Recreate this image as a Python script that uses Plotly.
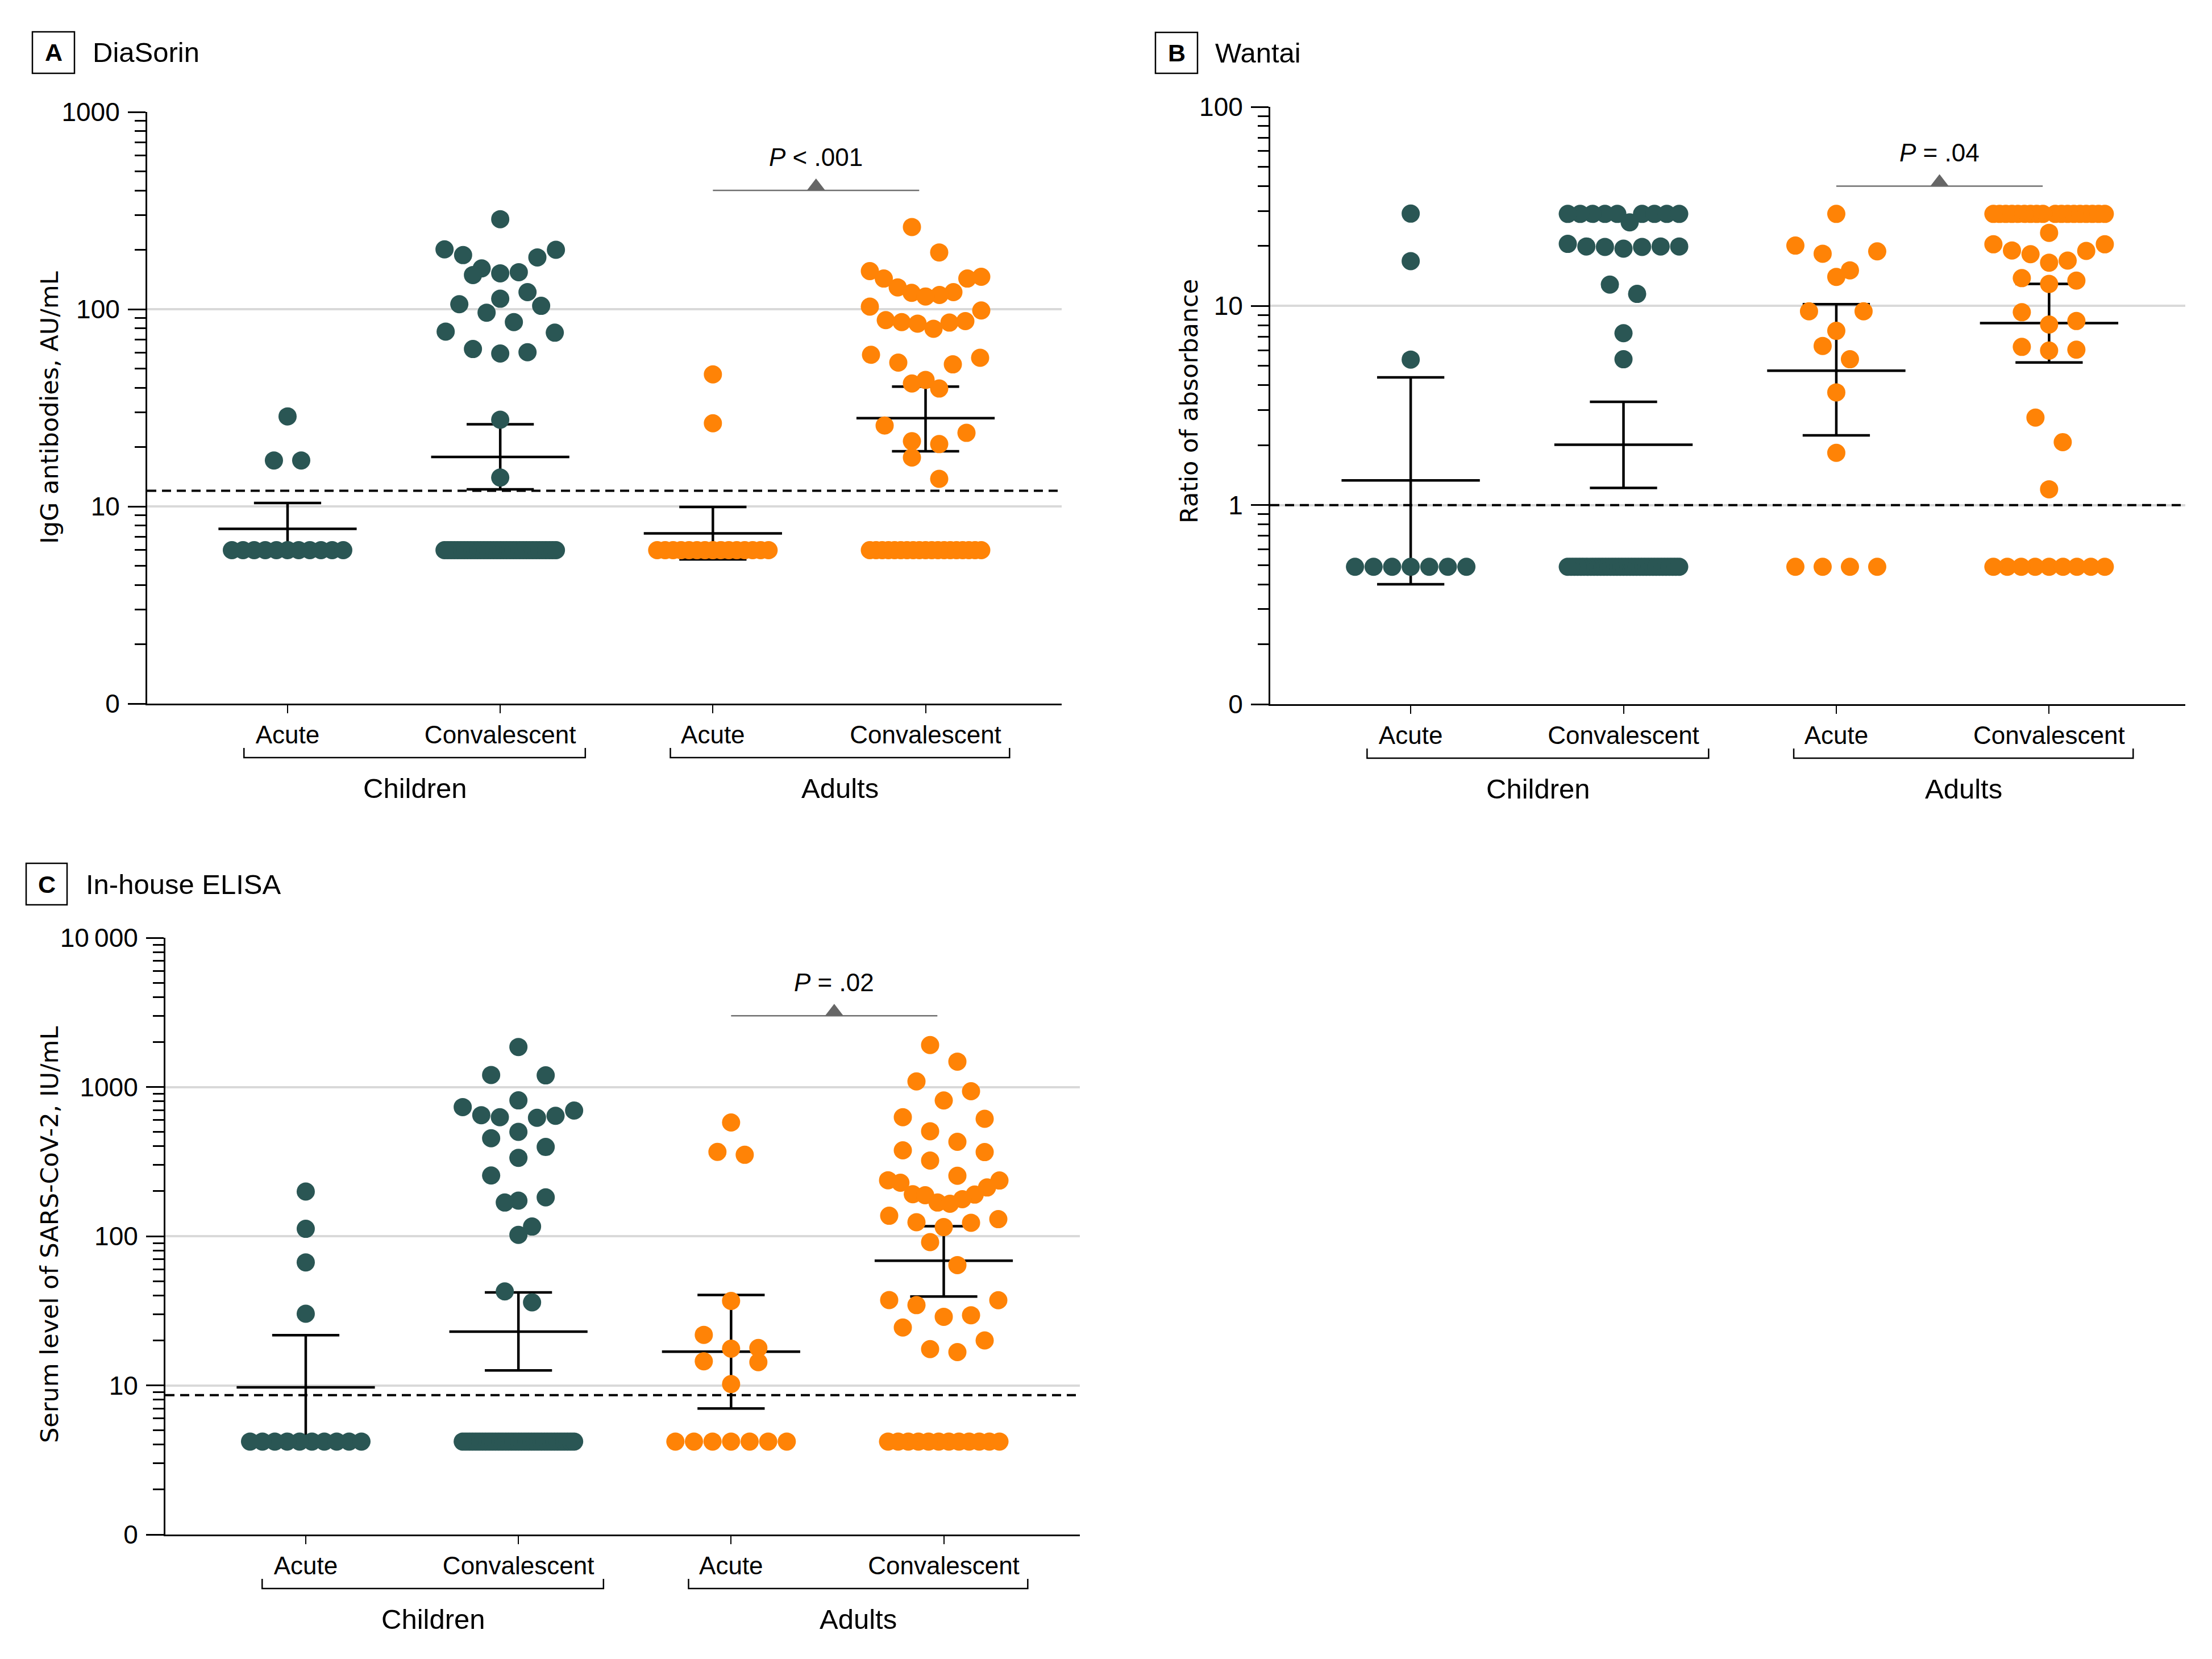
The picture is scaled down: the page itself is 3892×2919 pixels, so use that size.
import numpy as np
import plotly.graph_objects as go

FIG_W, FIG_H = 3892, 2919
PAGE_MARGIN = 8  # default body margin of the html page, compensated in placement
TEAL = "#2a5654"
ORANGE = "#ff8306"
FONT = "Liberation Sans, Arial, Helvetica, sans-serif"
YTITLE_FONT = "DejaVu Sans, Verdana, sans-serif"

categories = ["Acute", "Convalescent", "Acute", "Convalescent"]
cohorts = ["Children", "Adults"]
group_colors = [TEAL, TEAL, ORANGE, ORANGE]

# ---------------- Panel A: DiaSorin (AU/mL) ----------------
a_children_acute = [28.6, 17.1, 17.1,
                    6.0, 6.0, 6.0, 6.0, 6.0, 6.0, 6.0, 6.0, 6.0, 6.0, 6.0]
a_children_conv = [286, 201, 200, 188, 183, 161, 154, 152, 149, 122, 113,
                   106, 104, 96, 86, 77, 76, 62.8, 60.5, 59.6, 27.5, 14.0,
                   6.0, 6.0, 6.0, 6.0, 6.0, 6.0, 6.0, 6.0, 6.0, 6.0, 6.0, 6.0,
                   6.0, 6.0, 6.0, 6.0, 6.0, 6.0, 6.0, 6.0, 6.0, 6.0, 6.0, 6.0,
                   6.0, 6.0, 6.0, 6.0, 6.0, 6.0, 6.0, 6.0, 6.0, 6.0, 6.0]
a_adults_acute = [46.7, 26.4,
                  6.0, 6.0, 6.0, 6.0, 6.0, 6.0, 6.0, 6.0, 6.0, 6.0, 6.0, 6.0,
                  6.0, 6.0, 6.0]
a_adults_conv = [261, 194, 156, 146, 143, 143, 129, 122, 121, 118, 116, 103,
                 98.5, 88, 87, 86, 85.5, 84.5, 79.6, 58.7, 56.7, 53.6, 52.5,
                 43.8, 42, 39.6, 25.7, 23.6, 21.4, 20.7, 17.7, 13.8,
                 6.0, 6.0, 6.0, 6.0, 6.0, 6.0, 6.0, 6.0, 6.0, 6.0, 6.0, 6.0,
                 6.0, 6.0, 6.0, 6.0, 6.0, 6.0, 6.0]
a_gmean = [7.7, 17.8, 7.3, 28.0]
a_ci_low = [5.7, 12.2, 5.39, 19.05]
a_ci_high = [10.4, 26.1, 9.94, 40.5]
a_cutoff = 12.0
a_p_label = "<i>P</i> &lt; .001"

# ---------------- Panel B: Wantai (ratio) ----------------
b_children_acute = [29.1, 16.8, 5.38,
                    0.49, 0.49, 0.49, 0.49, 0.49, 0.49, 0.49]
b_children_conv = [29.0, 29.0, 29.0, 29.0, 29.0, 29.0, 29.0, 29.0, 29.0,
                   26.3, 20.5, 19.9, 19.9, 19.9, 19.8, 19.8, 19.4, 12.8, 11.5,
                   7.3, 5.4,
                   0.49, 0.49, 0.49, 0.49, 0.49, 0.49, 0.49, 0.49, 0.49, 0.49,
                   0.49, 0.49, 0.49, 0.49, 0.49, 0.49, 0.49, 0.49, 0.49, 0.49,
                   0.49, 0.49, 0.49, 0.49, 0.49, 0.49, 0.49, 0.49, 0.49, 0.49,
                   0.49, 0.49, 0.49, 0.49, 0.49]
b_adults_acute = [29.0, 20.1, 18.8, 18.3, 15.1, 14.0, 9.4, 9.4, 7.5, 6.3, 5.4,
                  3.68, 1.83,
                  0.49, 0.49, 0.49, 0.49]
b_adults_conv = [29.0, 29.0, 29.0, 29.0, 29.0, 29.0, 29.0, 29.0, 29.0,
                 29.0, 29.0, 29.0, 29.0, 29.0, 29.0, 29.0, 29.0, 29.0,
                 23.3, 20.4, 20.4, 19.0, 18.9, 18.2, 16.9, 16.5, 13.8, 13.4,
                 12.9, 9.3, 8.4, 8.07, 6.23, 6.03, 5.97, 2.75, 2.07, 1.20,
                 0.49, 0.49, 0.49, 0.49, 0.49, 0.49, 0.49, 0.49, 0.49]
b_gmean = [1.33, 2.01, 4.73, 8.2]
b_ci_low = [0.40, 1.22, 2.24, 5.2]
b_ci_high = [4.38, 3.30, 10.2, 12.9]
b_cutoff = 1.0
b_p_label = "<i>P</i> = .04"

# ---------------- Panel C: In-house ELISA (IU/mL) ----------------
c_children_acute = [199, 112, 66.7, 30.2,
                    4.2, 4.2, 4.2, 4.2, 4.2, 4.2, 4.2, 4.2, 4.2, 4.2]
c_children_conv = [1853, 1203, 1196, 813, 733, 695, 647, 641, 627, 621, 500,
                   453, 396, 335, 255, 182, 173, 168, 116, 102, 42.6, 36.0,
                   4.2, 4.2, 4.2, 4.2, 4.2, 4.2, 4.2, 4.2, 4.2, 4.2, 4.2, 4.2,
                   4.2, 4.2, 4.2, 4.2, 4.2, 4.2, 4.2, 4.2, 4.2, 4.2, 4.2, 4.2,
                   4.2, 4.2, 4.2, 4.2, 4.2, 4.2, 4.2, 4.2, 4.2, 4.2, 4.2]
c_adults_acute = [578, 367, 351, 36.8, 21.8, 17.8, 17.6, 14.5, 14.3, 10.2,
                  4.2, 4.2, 4.2, 4.2, 4.2, 4.2, 4.2]
c_adults_conv = [1910, 1479, 1089, 936, 812, 627, 612, 505, 429, 376, 366,
                 321, 254, 237, 236, 228, 212, 191, 190, 188, 177, 168, 165,
                 137, 130, 124, 123, 115, 91.2, 64.0, 37.3, 37.2, 34.5, 29.5,
                 28.8, 24.4, 20.0, 17.5, 16.7,
                 4.2, 4.2, 4.2, 4.2, 4.2, 4.2, 4.2, 4.2, 4.2, 4.2, 4.2, 4.2]
c_gmean = [9.7, 22.9, 16.8, 68.4]
c_ci_low = [4.4, 12.6, 7.0, 39.4]
c_ci_high = [21.7, 42.0, 40.3, 116.7]
c_cutoff = 8.6
c_p_label = "<i>P</i> = .02"

# ---------------- layout constants ----------------
XR = (-0.66, 3.64)
MARKER_D = 32
BIN_PX = 45
MAX_STEP = 48
MAX_SPAN = 196

panels = [
    dict(letter="A", name="DiaSorin", ytitle="IgG antibodies, AU/mL",
         groups=[a_children_acute, a_children_conv, a_adults_acute, a_adults_conv],
         gmean=a_gmean, lo=a_ci_low, hi=a_ci_high, cutoff=a_cutoff,
         pline=400, plabel=a_p_label, yrange=(0, 3),
         tickvals=[1, 10, 100, 1000], ticktext=["0", "10", "100", "1000"],
         plot_px=(259, 197, 1868, 1238), box_px=(57, 56, 131, 129),
         title_x=161, ytitle_x=87, ytitle_y=717),
    dict(letter="B", name="Wantai", ytitle="Ratio of absorbance",
         groups=[b_children_acute, b_children_conv, b_adults_acute, b_adults_conv],
         gmean=b_gmean, lo=b_ci_low, hi=b_ci_high, cutoff=b_cutoff,
         pline=40, plabel=b_p_label, yrange=(-1, 2),
         tickvals=[0.1, 1, 10, 100], ticktext=["0", "1", "10", "100"],
         plot_px=(2235, 188, 3845, 1239), box_px=(2033, 57, 2107, 129),
         title_x=2136, ytitle_x=2092, ytitle_y=706),
    dict(letter="C", name="In-house ELISA", ytitle="Serum level of SARS-CoV-2, IU/mL",
         groups=[c_children_acute, c_children_conv, c_adults_acute, c_adults_conv],
         gmean=c_gmean, lo=c_ci_low, hi=c_ci_high, cutoff=c_cutoff,
         pline=3000, plabel=c_p_label, yrange=(0, 4),
         tickvals=[1, 10, 100, 1000, 10000],
         ticktext=["0", "10", "100", "1000", "10\u2009000"],
         plot_px=(291, 1650, 1900, 2700), box_px=(46, 1519, 118, 1592),
         title_x=149, ytitle_x=87, ytitle_y=2173),
]


def px_x(px):
    return (px - PAGE_MARGIN) / FIG_W


def px_y(py):
    return 1 - (py - PAGE_MARGIN) / FIG_H


def swarm_offsets(vals, ppd):
    """Prism-like row layout: bin points into rows, spread each row sideways."""
    vals = np.asarray(vals, dtype=float)
    py = np.log10(vals) * ppd
    order = np.argsort(-vals, kind="stable")
    offs = np.zeros(len(vals))
    i = 0
    while i < len(order):
        top = py[order[i]]
        row = [order[i]]
        j = i + 1
        while j < len(order) and top - py[order[j]] <= BIN_PX:
            row.append(order[j])
            j += 1
        i = j
        n = len(row)
        step = MAX_STEP if n < 2 else min(MAX_STEP, MAX_SPAN / (n - 1))
        row_sorted = sorted(row, key=lambda k: vals[k])
        if n % 2:
            slots = [0] + [s for k in range(1, n // 2 + 1) for s in (k, -k)]
        else:
            slots = [s for k in range(n // 2) for s in (k + 0.5, -(k + 0.5))]
        for k, s in zip(row_sorted, slots):
            offs[k] = s * step
    return offs


fig = go.Figure()
shapes = []
annotations = []
layout_axes = {}

MEAN_HW = 0.325
CAP_HW = 0.158

for idx, p in enumerate(panels):
    sfx = "" if idx == 0 else str(idx + 1)
    xa, ya = "x" + sfx, "y" + sfx
    x0, y0, x1, y1 = p["plot_px"]
    r0, r1 = p["yrange"]
    ppd = (y1 - y0) / (r1 - r0)
    ppu = (x1 - x0) / (XR[1] - XR[0])

    minor_vals = [m * 10 ** d for d in range(int(r0), int(r1)) for m in range(2, 10)]

    layout_axes["xaxis" + sfx] = dict(
        domain=[px_x(x0), px_x(x1)], anchor=ya, range=list(XR), automargin=False,
        showline=True, linecolor="black", linewidth=3, mirror=False,
        ticks="outside", ticklen=14, tickwidth=2, tickcolor="black",
        tickmode="array", tickvals=[0, 1, 2, 3], ticktext=categories,
        tickfont=dict(family=FONT, size=44, color="black"),
        ticklabelstandoff=0,
        showgrid=False, zeroline=False, fixedrange=True,
    )
    layout_axes["yaxis" + sfx] = dict(
        domain=[px_y(y1), px_y(y0)], anchor=xa, type="log", range=[r0, r1],
        automargin=False,
        showline=True, linecolor="black", linewidth=3, mirror=False,
        ticks="outside", ticklen=31, tickwidth=3, tickcolor="black",
        tickmode="array", tickvals=p["tickvals"], ticktext=p["ticktext"],
        tickfont=dict(family=FONT, size=46, color="black"),
        ticklabelstandoff=5,
        showgrid=True, gridcolor="#d9d9d9", gridwidth=3.5,
        minor=dict(tickmode="array", tickvals=minor_vals, ticks="outside",
                   ticklen=19, tickwidth=2.5, tickcolor="black", showgrid=False),
        zeroline=False, fixedrange=True,
    )

    # cutoff (dashed)
    fig.add_trace(go.Scatter(
        x=list(XR), y=[p["cutoff"], p["cutoff"]], mode="lines",
        line=dict(color="black", width=4, dash="16px,10px"),
        xaxis=xa, yaxis=ya, showlegend=False, hoverinfo="skip"))

    # geometric mean and 95% CI
    ex, ey = [], []
    for g in range(4):
        m, lo, hi = p["gmean"][g], p["lo"][g], p["hi"][g]
        ex += [g - MEAN_HW, g + MEAN_HW, None, g, g, None,
               g - CAP_HW, g + CAP_HW, None, g - CAP_HW, g + CAP_HW, None]
        ey += [m, m, None, lo, hi, None, hi, hi, None, lo, lo, None]
    fig.add_trace(go.Scatter(
        x=ex, y=ey, mode="lines", line=dict(color="black", width=4.5),
        xaxis=xa, yaxis=ya, showlegend=False, hoverinfo="skip", connectgaps=False))

    # P-value bracket
    fig.add_trace(go.Scatter(
        x=[2.0, 2.97], y=[p["pline"], p["pline"]], mode="lines",
        line=dict(color="#707070", width=2.5),
        xaxis=xa, yaxis=ya, showlegend=False, hoverinfo="skip"))
    fig.add_trace(go.Scatter(
        x=[2.485], y=[p["pline"] * 10 ** (7 / ppd)], mode="markers",
        marker=dict(symbol="triangle-up", size=28, color="#666666", line=dict(width=0)),
        xaxis=xa, yaxis=ya, showlegend=False, hoverinfo="skip"))
    annotations.append(dict(
        x=2.485, y=np.log10(p["pline"]), xref=xa, yref=ya, yshift=59,
        text=p["plabel"], showarrow=False, xanchor="center", yanchor="middle",
        font=dict(family=FONT, size=44, color="black")))

    # dots
    for g, vals in enumerate(p["groups"]):
        offs = swarm_offsets(vals, ppd) / ppu
        fig.add_trace(go.Scatter(
            x=g + offs, y=vals, mode="markers",
            marker=dict(size=MARKER_D, color=group_colors[g], line=dict(width=0)),
            xaxis=xa, yaxis=ya, showlegend=False,
            name=f"{cohorts[g // 2]} {categories[g]}"))

    # cohort brackets below the axis
    line_y = px_y(y1 + 95)
    end_y = px_y(y1 + 78)
    for (bx0, bx1), label in zip([(-0.205, 1.40), (1.80, 3.395)], cohorts):
        shapes.append(dict(
            type="path", xref=xa, yref="paper",
            path=f"M {bx0},{end_y} L {bx0},{line_y} L {bx1},{line_y} L {bx1},{end_y}",
            line=dict(color="black", width=2.5)))
        annotations.append(dict(
            x=(bx0 + bx1) / 2, y=px_y(y1 + 149), xref=xa, yref="paper",
            text=label, showarrow=False, xanchor="center", yanchor="middle",
            font=dict(family=FONT, size=49, color="black")))

    # panel letter box and title
    bx0, by0, bx1, by1 = p["box_px"]
    shapes.append(dict(type="rect", xref="paper", yref="paper",
                       x0=px_x(bx0), x1=px_x(bx1), y0=px_y(by1), y1=px_y(by0),
                       line=dict(color="black", width=2.5), fillcolor="white"))
    annotations.append(dict(
        x=px_x((bx0 + bx1) / 2), y=px_y((by0 + by1) / 2), xref="paper", yref="paper",
        text=f"<b>{p['letter']}</b>", showarrow=False, xanchor="center", yanchor="middle",
        font=dict(family=FONT, size=43, color="black")))
    annotations.append(dict(
        x=px_x(p["title_x"]), y=px_y((by0 + by1) / 2), xref="paper", yref="paper",
        text=p["name"], showarrow=False, xanchor="left", yanchor="middle",
        font=dict(family=FONT, size=49, color="black")))

    # y-axis title
    annotations.append(dict(
        x=px_x(p["ytitle_x"]), y=px_y(p["ytitle_y"]), xref="paper", yref="paper",
        text=p["ytitle"], textangle=-90, showarrow=False,
        xanchor="center", yanchor="middle",
        font=dict(family=YTITLE_FONT, size=43, color="black")))

fig.update_layout(
    template="none",
    width=FIG_W, height=FIG_H, autosize=False,
    margin=dict(l=0, r=0, t=0, b=0, pad=0, autoexpand=False),
    paper_bgcolor="white", plot_bgcolor="white",
    showlegend=False, shapes=shapes, annotations=annotations,
    font=dict(family=FONT, color="black"),
    **layout_axes,
)

fig.write_html("out.html")
